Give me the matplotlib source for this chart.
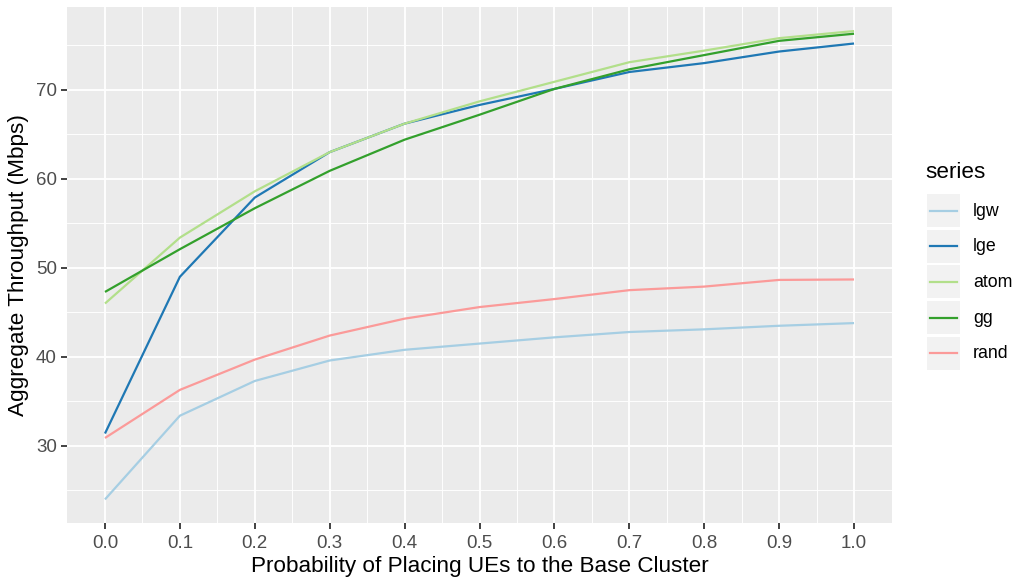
import matplotlib
matplotlib.use("Agg")
from matplotlib import pyplot as plt
from matplotlib.patches import Rectangle
from matplotlib.lines import Line2D
import numpy as np

plt.rcParams['font.family'] = ['Liberation Sans', 'DejaVu Sans']

# data
prob = [0.0, 0.1, 0.2, 0.3, 0.4, 0.5, 0.6, 0.7, 0.8, 0.9, 1.0]
lgw = [24.0, 33.4, 37.3, 39.6, 40.8, 41.5, 42.2, 42.8, 43.1, 43.5, 43.8]
lge = [31.4, 49.0, 57.9, 63.0, 66.2, 68.3, 70.1, 72.0, 73.0, 74.3, 75.2]
atom = [46.0, 53.4, 58.6, 63.0, 66.2, 68.7, 70.9, 73.1, 74.4, 75.8, 76.6]
gg = [47.3, 52.1, 56.7, 60.9, 64.4, 67.2, 70.1, 72.3, 73.9, 75.5, 76.3]
rand = [30.9, 36.3, 39.7, 42.4, 44.3, 45.6, 46.5, 47.5, 47.9, 48.65, 48.7]

names = ["lgw", "lge", "atom", "gg", "rand"]
series = [lgw, lge, atom, gg, rand]
colors = ["#A6CEE3", "#1F78B4", "#B2DF8A", "#33A02C", "#FB9A99"]

fig = plt.figure(figsize=(10.19, 5.85), dpi=100)
ax = fig.add_axes([67/1019, 1-523/585, (892-67)/1019, (523-7)/585])
ax.set_facecolor("#EBEBEB")

for name, vals, c in zip(names, series, colors):
    ax.plot(prob, vals, color=c, lw=1.6, label=name, solid_capstyle="butt")

ax.set_xlim(-0.0507, 1.0507)
ax.set_ylim(21.35, 79.3)
ax.set_xticks(np.arange(0, 1.01, 0.1))
ax.set_xticklabels(["%.1f" % v for v in np.arange(0, 1.01, 0.1)])
ax.set_xticks(np.arange(0.05, 1.0, 0.1), minor=True)
ax.set_yticks([30, 40, 50, 60, 70])
ax.set_yticks([25, 35, 45, 55, 65, 75], minor=True)
ax.grid(which="major", color="white", lw=1.3)
ax.grid(which="minor", color="white", lw=0.65)
ax.set_axisbelow(True)
for s in ax.spines.values():
    s.set_visible(False)
ax.tick_params(which="major", length=4.2, width=1.3, color="#333333",
               labelcolor="#4D4D4D", labelsize=13.5, pad=3)
ax.tick_params(axis="x", which="major", pad=4.5)
ax.tick_params(which="minor", length=0)

ax.set_xlabel("Probability of Placing UEs to the Base Cluster", fontsize=16.2, labelpad=3)
ax.set_ylabel("Aggregate Throughput (Mbps)", fontsize=16.2, labelpad=5)

# ggplot-style legend
W, H = 1019, 585
fig.text(925/W, 1-172/H, "series", fontsize=16.2, va="center", ha="left")
for k, (name, c) in enumerate(zip(names, colors)):
    y0 = 194 + k*35.7
    fig.add_artist(Rectangle((927/W, 1-(y0+33)/H), 33/W, 33/H,
                             transform=fig.transFigure, facecolor="#F2F2F2",
                             edgecolor="none"))
    fig.add_artist(Line2D([930/W, 957/W], [1-(y0+16.5)/H]*2,
                          transform=fig.transFigure, color=c, lw=1.6))
    fig.text(973/W, 1-(y0+17)/H, name, fontsize=12.8, va="center", ha="left")

fig.savefig("out.png", dpi=100)
